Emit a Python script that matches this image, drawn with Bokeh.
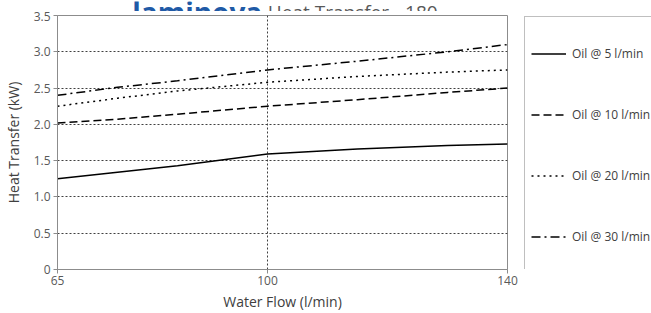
from bokeh.plotting import figure
from bokeh.layouts import row, column
from bokeh.models import FixedTicker, Legend, LegendItem, Label, Range1d
from bokeh.embed import file_html
from bokeh.resources import INLINE

water_flow = [65, 75, 85, 100, 115, 130, 140]
oil_5 = [1.25, 1.34, 1.43, 1.59, 1.66, 1.71, 1.73]
oil_10 = [2.02, 2.07, 2.14, 2.25, 2.34, 2.44, 2.50]
oil_20 = [2.25, 2.36, 2.46, 2.58, 2.66, 2.72, 2.75]
oil_30 = [2.40, 2.51, 2.60, 2.75, 2.87, 3.00, 3.10]
series_names = ["Oil @ 5 l/min", "Oil @ 10 l/min", "Oil @ 20 l/min", "Oil @ 30 l/min"]
x_ticks = [65, 100, 140]
y_ticks = [0, 0.5, 1.0, 1.5, 2.0, 2.5, 3.0, 3.5]
y_tick_labels = ["0", "0.5", "1.0", "1.5", "2.0", "2.5", "3.0", "3.5"]
title_brand = "laminova"
title_text = "Heat Transfer - 180"

FONT = "Open Sans"
GRAY = "#595959"
STRIP = 11

# title strip (only its lower part is visible, as in the reference)
pt = figure(width=523, height=STRIP, output_backend="svg", toolbar_location=None,
            x_range=Range1d(65, 140), y_range=Range1d(0, STRIP),
            min_border_left=53, min_border_right=16, min_border_top=0, min_border_bottom=0)
pt.axis.visible = False
pt.grid.visible = False
pt.outline_line_color = None
pt.add_layout(Label(x=78.0, y=0.5, text=title_brand, text_font=FONT, text_font_size="28px",
                    text_font_style="bold", text_color="#1f5aa6", text_baseline="alphabetic"))
pt.add_layout(Label(x=100.4, y=0.5, text=title_text, text_font=FONT,
                    text_font_size="19px", text_color=GRAY, text_baseline="alphabetic"))

p = figure(width=523, height=313 - STRIP, output_backend="svg", toolbar_location=None,
           x_range=pt.x_range, y_range=Range1d(0, 3.5),
           min_border_left=53, min_border_right=16, min_border_top=15 - STRIP, min_border_bottom=40)

p.outline_line_color = "#8c8c8c"
p.outline_line_width = 1

p.xaxis.ticker = FixedTicker(ticks=x_ticks)
p.yaxis.ticker = FixedTicker(ticks=y_ticks)
p.yaxis.major_label_overrides = {t: l for t, l in zip(y_ticks, y_tick_labels)}
p.xgrid.ticker = FixedTicker(ticks=[100])
p.ygrid.ticker = FixedTicker(ticks=[0.5, 1.0, 1.5, 2.0, 2.5, 3.0])
for g in (p.xgrid, p.ygrid):
    g.grid_line_color = "#404040"
    g.grid_line_dash = "2 2"
    g.grid_line_width = 1

for ax in (p.xaxis, p.yaxis):
    ax.axis_line_color = "#8c8c8c"
    ax.major_tick_line_color = "#8c8c8c"
    ax.major_tick_in = 0
    ax.major_tick_out = 4
    ax.minor_tick_line_color = None
    ax.major_label_text_font = FONT
    ax.major_label_text_font_size = "12px"
    ax.major_label_text_color = GRAY
    ax.axis_label_text_font = FONT
    ax.axis_label_text_font_size = "14px"
    ax.axis_label_text_font_style = "normal"
    ax.axis_label_text_color = "#404040"
p.xaxis.axis_label = "Water Flow (l/min)"
p.yaxis.axis_label = "Heat Transfer (kW)"
p.xaxis.axis_label_standoff = 4
p.yaxis.axis_label_standoff = 8
p.xaxis.major_label_standoff = 2
p.yaxis.major_label_standoff = 3

series = [oil_5, oil_10, oil_20, oil_30]
dashes = ["solid", "8 4", "2 4", "9 4 2 4"]
for ys, d in zip(series, dashes):
    p.line(water_flow, ys, line_color="black", line_width=1.5, line_dash=d)

# legend panel: a separate figure whose lines (same data, same styles) lie outside its view
p2 = figure(width=150, height=313 - STRIP, output_backend="svg", toolbar_location=None,
            x_range=Range1d(0, 1), y_range=Range1d(0, 1),
            min_border_left=0, min_border_right=0, min_border_top=15 - STRIP, min_border_bottom=40)
p2.axis.visible = False
p2.grid.visible = False
p2.outline_line_color = None
rs = [p2.line(water_flow, ys, line_color="black", line_width=1.5, line_dash=d)
      for ys, d in zip(series, dashes)]

legend = Legend(items=[LegendItem(label=n, renderers=[r]) for n, r in zip(series_names, rs)],
                location="top_left")
legend.glyph_width = 35
legend.glyph_height = 61
legend.label_height = 61
legend.spacing = 0
legend.padding = 6
legend.label_standoff = 6
legend.label_text_font = FONT
legend.label_text_font_size = "12px"
legend.label_text_color = "#404040"
legend.border_line_color = "#808080"
legend.border_line_width = 1
legend.background_fill_color = "white"
legend.background_fill_alpha = 1
legend.margin = 1
p2.add_layout(legend, "center")

html = file_html(column(pt, row(p, p2)), INLINE)
html = html.replace("<body>", '<body style="margin:0; overflow:hidden">', 1)
open("out.html", "w").write(html)
